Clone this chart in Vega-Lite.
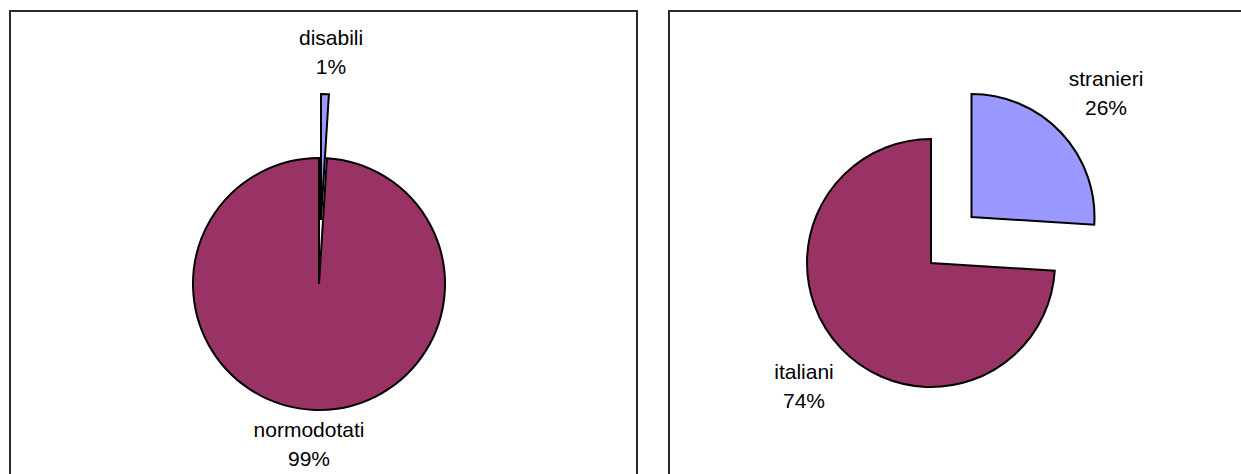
{
  "$schema": "https://vega.github.io/schema/vega-lite/v6.json",
  "padding": {"left": 9, "top": 10, "right": 0, "bottom": 0},
  "spacing": 30,
  "config": {
    "view": {"stroke": "#2a2a2a", "strokeWidth": 2},
    "font": "Liberation Sans",
    "text": {"font": "Liberation Sans"}
  },
  "hconcat": [
    {
      "width": 627,
      "height": 546,
      "view": {"stroke": "#2a2a2a", "strokeWidth": 2},
      "data": {"values": [
        {"category": "disabili", "value": 1},
        {"category": "normodotati", "value": 99}
      ]},
      "transform": [{"calculate": "datum.category + '\\n' + datum.value + '%'", "as": "label"}],
      "encoding": {
        "theta": {"field": "value", "type": "quantitative", "stack": true},
        "order": {"field": "value", "type": "quantitative", "sort": "ascending"},
        "color": {"field": "category", "type": "nominal", "legend": null,
          "scale": {"domain": ["disabili", "normodotati"], "range": ["#9999FF", "#993366"]}}
      },
      "layer": [
        {
          "mark": {"type": "arc", "radius": 126, "stroke": "black", "strokeWidth": 2, "xOffset": -4.5},
          "encoding": {"opacity": {"condition": {"test": "datum.category == 'normodotati'", "value": 1}, "value": 0}}
        },
        {
          "mark": {"type": "arc", "radius": 126, "stroke": "black", "strokeWidth": 2, "xOffset": -2.5, "yOffset": -64},
          "encoding": {"opacity": {"condition": {"test": "datum.category == 'disabili'", "value": 1}, "value": 0}}
        },
        {
          "mark": {"type": "text", "radius": 150, "xOffset": -9.8, "yOffset": -2.9, "fontSize": 21, "lineBreak": "\n", "lineHeight": 29, "color": "black"},
          "encoding": {"text": {"field": "label"}, "color": {"value": "black"},
            "opacity": {"condition": {"test": "datum.category == 'normodotati'", "value": 1}, "value": 0}}
        },
        {
          "mark": {"type": "text", "radius": 170, "xOffset": 2.2, "yOffset": -75.1, "fontSize": 21, "lineBreak": "\n", "lineHeight": 29, "color": "black"},
          "encoding": {"text": {"field": "label"}, "color": {"value": "black"},
            "opacity": {"condition": {"test": "datum.category == 'disabili'", "value": 1}, "value": 0}}
        }
      ]
    },
    {
      "width": 627,
      "height": 546,
      "view": {"stroke": "#2a2a2a", "strokeWidth": 2},
      "data": {"values": [
        {"category": "stranieri", "value": 26},
        {"category": "italiani", "value": 74}
      ]},
      "transform": [{"calculate": "datum.category + '\\n' + datum.value + '%'", "as": "label"}],
      "encoding": {
        "theta": {"field": "value", "type": "quantitative", "stack": true},
        "order": {"field": "value", "type": "quantitative", "sort": "ascending"},
        "color": {"field": "category", "type": "nominal", "legend": null,
          "scale": {"domain": ["stranieri", "italiani"], "range": ["#9999FF", "#993366"]}}
      },
      "layer": [
        {
          "mark": {"type": "arc", "radius": 124, "stroke": "black", "strokeWidth": 2, "xOffset": -51.5, "yOffset": -21},
          "encoding": {"opacity": {"condition": {"test": "datum.category == 'italiani'", "value": 1}, "value": 0}}
        },
        {
          "mark": {"type": "arc", "radius": 123, "stroke": "black", "strokeWidth": 2, "xOffset": -11, "yOffset": -67},
          "encoding": {"opacity": {"condition": {"test": "datum.category == 'stranieri'", "value": 1}, "value": 0}}
        },
        {
          "mark": {"type": "text", "radius": 170, "xOffset": -54.6, "yOffset": -27.4, "fontSize": 21, "lineBreak": "\n", "lineHeight": 29, "color": "black"},
          "encoding": {"text": {"field": "label"}, "color": {"value": "black"},
            "opacity": {"condition": {"test": "datum.category == 'italiani'", "value": 1}, "value": 0}}
        },
        {
          "mark": {"type": "text", "radius": 180, "xOffset": -7.7, "yOffset": -80.8, "fontSize": 21, "lineBreak": "\n", "lineHeight": 29, "color": "black"},
          "encoding": {"text": {"field": "label"}, "color": {"value": "black"},
            "opacity": {"condition": {"test": "datum.category == 'stranieri'", "value": 1}, "value": 0}}
        }
      ]
    }
  ]
}
